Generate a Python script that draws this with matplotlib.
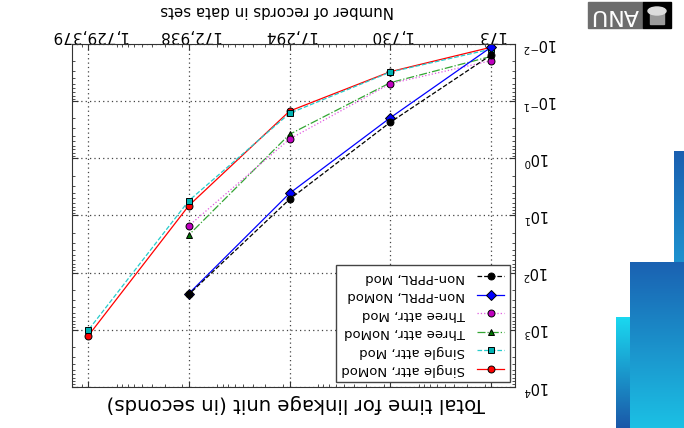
import numpy as np
import matplotlib.pyplot as plt
from matplotlib.patches import Rectangle, Ellipse
from matplotlib.colors import LinearSegmentedColormap
from matplotlib.ticker import NullFormatter

# number of records per data set (x) and run time in seconds (y)
records = [173, 1730, 17294, 172938, 1729379]
record_labels = ['173', '1,730', '17,294', '172,938', '1,729,379']
decades = [1e-2, 1e-1, 1e0, 1e1, 1e2, 1e3, 1e4]

single_nomod = [0.0114, 0.0305, 0.149, 6.7, 1280]
single_mod = [0.0123, 0.031, 0.163, 5.5, 1020]
three_nomod = [0.0165, 0.0475, 0.38, 21.9]
three_mod = [0.0196, 0.0494, 0.46, 15.1]
nonpprl_nomod = [0.0114, 0.195, 4.09, 232]
nonpprl_mod = [0.0156, 0.234, 5.2, 240]

series_names = ['Single attr, NoMod', 'Single attr, Mod', 'Three attr, NoMod',
                'Three attr, Mod', 'Non-PPRL, NoMod', 'Non-PPRL, Mod']

W, H = 684, 428


def fx(px):
    return px / W


def fy(py):
    # pixel row from top -> figure fraction
    return 1 - py / H


fig = plt.figure(figsize=(W / 100, H / 100), dpi=100)

# the whole slide is shown upside down, so axes are inverted and texts turned
ax = fig.add_axes([fx(72), fy(387), fx(515) - fx(72), fy(44) - fy(387)])
ax.set_xscale('log')
ax.set_yscale('log')

sty = dict(lw=0.9, ms=5, mec='k', mew=0.7)
h = []
h += ax.plot(records, single_nomod, '-o', color='r', mfc='r', **sty)
h += ax.plot(records, single_mod, '--s', color=(0.15, 0.8, 0.8), mfc=(0, 0.7, 0.7), **sty)
h += ax.plot(records[:4], three_nomod, '-.^', color=(0.2, 0.65, 0.2), mfc=(0, 0.45, 0), **sty)
h += ax.plot(records[:4], three_mod, ':o', color=(0.88, 0.35, 0.88), mfc=(0.75, 0, 0.75), **sty)
h += ax.plot(records[:4], nonpprl_nomod, '-D', color='b', mfc='b', **sty)
h += ax.plot(records[:4], nonpprl_mod, '--o', color='k', mfc='k', **sty)

ax.set_xlim(2.5e6, 100)
ax.set_ylim(1e4, 1e-2)
ax.set_xticks(records)
ax.set_xticklabels(record_labels)
ax.xaxis.set_minor_formatter(NullFormatter())
ax.set_yticks(decades)
ax.yaxis.set_minor_formatter(NullFormatter())

ax.tick_params(which='both', direction='in', top=True, bottom=True, left=True, right=True,
               labeltop=True, labelbottom=False, labelright=True, labelleft=False,
               color='#333333')
ax.tick_params(which='major', length=4, width=0.8)
ax.tick_params(which='minor', length=2, width=0.6)
ax.tick_params(axis='x', labelsize=11, pad=1)
ax.tick_params(axis='y', labelsize=10.5, pad=6)
for t in ax.xaxis.get_major_ticks():
    t.label2.set_rotation(180)
for t in ax.yaxis.get_major_ticks():
    t.label2.set_rotation(180)
    t.label2.set_va('center')

ax.grid(True, which='major', linestyle=(0, (1, 2.5)), color='#444444', lw=0.9)
for sp in ax.spines.values():
    sp.set_color('#333333')

fig.text(fx(277), fy(11), 'Number of records in data sets', rotation=180,
         ha='center', va='center', fontsize=10.8)
fig.text(fx(296), fy(403), 'Total time for linkage unit (in seconds)', rotation=180,
         ha='center', va='center', fontsize=14.2)

leg = ax.legend(h[::-1], series_names[::-1], loc='lower right', markerfirst=False,
                fontsize=9.5, fancybox=False, edgecolor='#444444', framealpha=1,
                borderaxespad=0.4, handlelength=2.1, handletextpad=0.9, labelspacing=0.42)
for t in leg.get_texts():
    t.set_rotation(180)

# blue slide decoration on the right
def gradient_bar(x0, x1, y0, y1, c_top, c_bot):
    bax = fig.add_axes([fx(x0), fy(y1), fx(x1) - fx(x0), fy(y0) - fy(y1)])
    cmap = LinearSegmentedColormap.from_list('g', [c_top, c_bot])
    bax.imshow(np.linspace(0, 1, 100).reshape(-1, 1), cmap=cmap, aspect='auto')
    bax.axis('off')


gradient_bar(674, 684, 151, 263, '#1a5fb0', '#1e92cf')
gradient_bar(630, 684, 262, 428, '#1a62b2', '#1cc0e4')
gradient_bar(616, 630, 317, 428, '#1ad8f0', '#1a58a8')

# ANU logo (upside down)
fig.patches.append(Rectangle((fx(588), fy(28)), fx(643) - fx(588), fy(2) - fy(28),
                             transform=fig.transFigure, color='#6d6d6d'))
fig.patches.append(Rectangle((fx(643), fy(28)), fx(671) - fx(643), fy(2) - fy(28),
                             transform=fig.transFigure, color='black'))
fig.patches.append(Rectangle((fx(650), fy(24)), fx(664) - fx(650), fy(12) - fy(24),
                             transform=fig.transFigure, color='#9a9a9a'))
fig.patches.append(Ellipse((fx(657), fy(11)), fx(18), fy(0) - fy(8),
                           transform=fig.transFigure, color='#dddddd'))
fig.text(fx(615), fy(15), 'ANU', rotation=180, ha='center', va='center',
         fontsize=16, color='white')

fig.savefig('out.png', dpi=100)
